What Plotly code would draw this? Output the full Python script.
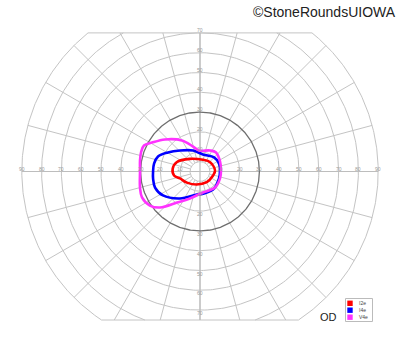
import numpy as np
import plotly.graph_objects as go

# ---- data (degrees of visual field: horizontal, vertical) ----
ring_ecc = [10, 20, 30, 40, 50, 60, 70, 80, 90]
meridians = list(range(0, 360, 15))
h_ticks = [10, 20, 30, 40, 50, 60, 70, 80, 90]
v_ticks = [10, 20, 30, 40, 50, 60, 70]
top_limit = 70
bottom_limit = 75
outer_ecc = 90

iso_names = ["I2e", "I4e", "V4e"]
iso_colors = ["#ff0000", "#0000ff", "#ff33ff"]

i2e_h = [7.6, 5.1, 1.5, -5.1, -11.8, -13.8, -13.1, -10.1, -6.6, -1.7, 3.4, 6.6]
i2e_v = [0.5, 4.7, 5.9, 6.4, 4.7, 1.4, -2.0, -3.5, -5.6, -6.6, -5.4, -2.0]

i4e_h = [10.1, 9.6, 7.1, 1.5, -3.5, -10.1, -16.2, -21.2, -23.2, -23.7, -23.7, -22.7, -18.7, -10.1, -1.5, 2.0, 7.1, 9.6]
i4e_v = [0.5, 4.0, 7.1, 8.6, 10.6, 10.6, 9.6, 7.6, 4.0, 0.0, -3.5, -8.1, -12.1, -13.6, -11.6, -11.1, -8.6, -3.5]

v4e_h = [10.6, 10.1, 8.1, 5.1, -0.5, -3.5, -9.1, -17.7, -24.2, -28.3, -29.8, -30.3, -30.3, -30.3, -29.3, -25.3, -20.2, -11.6, -5.1, 1.5, 7.6, 10.1]
v4e_v = [0.5, 5.1, 9.6, 10.6, 10.6, 12.6, 15.7, 16.2, 14.6, 13.1, 9.6, 5.6, 0.0, -8.1, -13.1, -17.2, -18.2, -15.7, -13.6, -10.6, -8.1, -3.5]

iso_h = [i2e_h, i4e_h, v4e_h]
iso_v = [i2e_v, i4e_v, v4e_v]

# ---- geometry helpers ----
def ring_xy(r):
    xs, ys = [], []
    if r <= top_limit:
        t = np.linspace(0, 2 * np.pi, 361)
        xs += list(r * np.cos(t)); ys += list(r * np.sin(t))
        return xs, ys
    a_top = np.arcsin(min(1, top_limit / r))
    a_bot = np.arcsin(min(1, bottom_limit / r))
    for t0, t1 in [(-a_bot, a_top), (np.pi - a_top, np.pi + a_bot)]:
        t = np.linspace(t0, t1, 200)
        xs += list(r * np.cos(t)) + [None]
        ys += list(r * np.sin(t)) + [None]
    return xs, ys

grid_x, grid_y = [], []
for r in ring_ecc + [5]:
    if r == 30:
        continue
    xs, ys = ring_xy(r)
    grid_x += xs + [None]
    grid_y += ys + [None]

for m in meridians:
    a = np.radians(m)
    s = np.sin(a)
    r_end = outer_ecc
    if s > 1e-9:
        r_end = min(r_end, top_limit / s)
    elif s < -1e-9:
        r_end = min(r_end, bottom_limit / -s)
    grid_x += [5 * np.cos(a), r_end * np.cos(a), None]
    grid_y += [5 * np.sin(a), r_end * np.sin(a), None]

# top / bottom boundary lines
for lim, sign in [(top_limit, 1), (bottom_limit, -1)]:
    half = np.sqrt(outer_ecc ** 2 - lim ** 2)
    grid_x += [-half, half, None]
    grid_y += [sign * lim, sign * lim, None]

fig = go.Figure()
fig.add_trace(go.Scatter(x=grid_x, y=grid_y, mode="lines",
                         line=dict(color="#c4c4c4", width=1), hoverinfo="skip"))
# horizontal / vertical axes
fig.add_trace(go.Scatter(x=[-outer_ecc, outer_ecc, None, 0, 0],
                         y=[0, 0, None, top_limit, -bottom_limit], mode="lines",
                         line=dict(color="#bdbdbd", width=1.2), hoverinfo="skip"))
x30, y30 = ring_xy(30)
fig.add_trace(go.Scatter(x=x30, y=y30, mode="lines",
                         line=dict(color="#6e6e6e", width=1.3), hoverinfo="skip"))

for name, col, hx, vy in zip(iso_names, iso_colors, iso_h, iso_v):
    fig.add_trace(go.Scatter(x=hx + [hx[0]], y=vy + [vy[0]], mode="lines", name=name,
                             line=dict(color=col, width=2.6, shape="spline", smoothing=1.0),
                             hoverinfo="skip"))

ann = []
for t in h_ticks:
    for sgn in (-1, 1):
        ann.append(dict(x=sgn * t, y=0, text=str(t), showarrow=False, yshift=3,
                        font=dict(size=5, color="#9a9a9a", family="Liberation Sans")))
for t in v_ticks:
    ann.append(dict(x=0, y=t, text=str(t), showarrow=False, yshift=3,
                    font=dict(size=5, color="#9a9a9a", family="Liberation Sans")))
    ann.append(dict(x=0, y=-t, text=str(t), showarrow=False, yshift=-3,
                    font=dict(size=5, color="#9a9a9a", family="Liberation Sans")))

ann.append(dict(xref="paper", yref="paper", x=0.995, y=1 - 12 / 352, text="©StoneRoundsUIOWA",
                showarrow=False, xanchor="right", yanchor="middle",
                font=dict(size=14, color="#222222", family="Liberation Sans")))
ann.append(dict(xref="paper", yref="paper", x=328.5 / 400, y=1 - 316.5 / 352, text="OD",
                showarrow=False, xanchor="center", yanchor="middle",
                font=dict(size=11, color="#222222", family="Liberation Sans")))

shapes = [dict(type="rect", xref="paper", yref="paper",
               x0=345.5 / 400, x1=372.5 / 400, y0=1 - 321.5 / 352, y1=1 - 298.5 / 352,
               line=dict(color="#bbbbbb", width=1), fillcolor="white")]
row_y = [303.3, 310.2, 317.2]
for name, col, ry in zip(iso_names, iso_colors, row_y):
    shapes.append(dict(type="rect", xref="paper", yref="paper",
                       x0=347.3 / 400, x1=352.7 / 400, y0=1 - (ry + 2.7) / 352, y1=1 - (ry - 2.7) / 352,
                       line=dict(width=0), fillcolor=col))
    ann.append(dict(xref="paper", yref="paper", x=356.5 / 400, y=1 - ry / 352, text=name,
                    showarrow=False, xanchor="left", yanchor="middle",
                    font=dict(size=5, color="#444444", family="Liberation Sans")))

cy = 171.5
ppd = 1.98
fig.update_layout(
    width=400, height=352, margin=dict(l=0, r=0, t=0, b=0),
    paper_bgcolor="white", plot_bgcolor="white", showlegend=False,
    xaxis=dict(range=[-200 / ppd, 200 / ppd], visible=False, fixedrange=True),
    yaxis=dict(range=[-(352 - cy) / ppd, cy / ppd], visible=False, fixedrange=True),
    annotations=ann, shapes=shapes,
)
fig.write_html("out.html")
